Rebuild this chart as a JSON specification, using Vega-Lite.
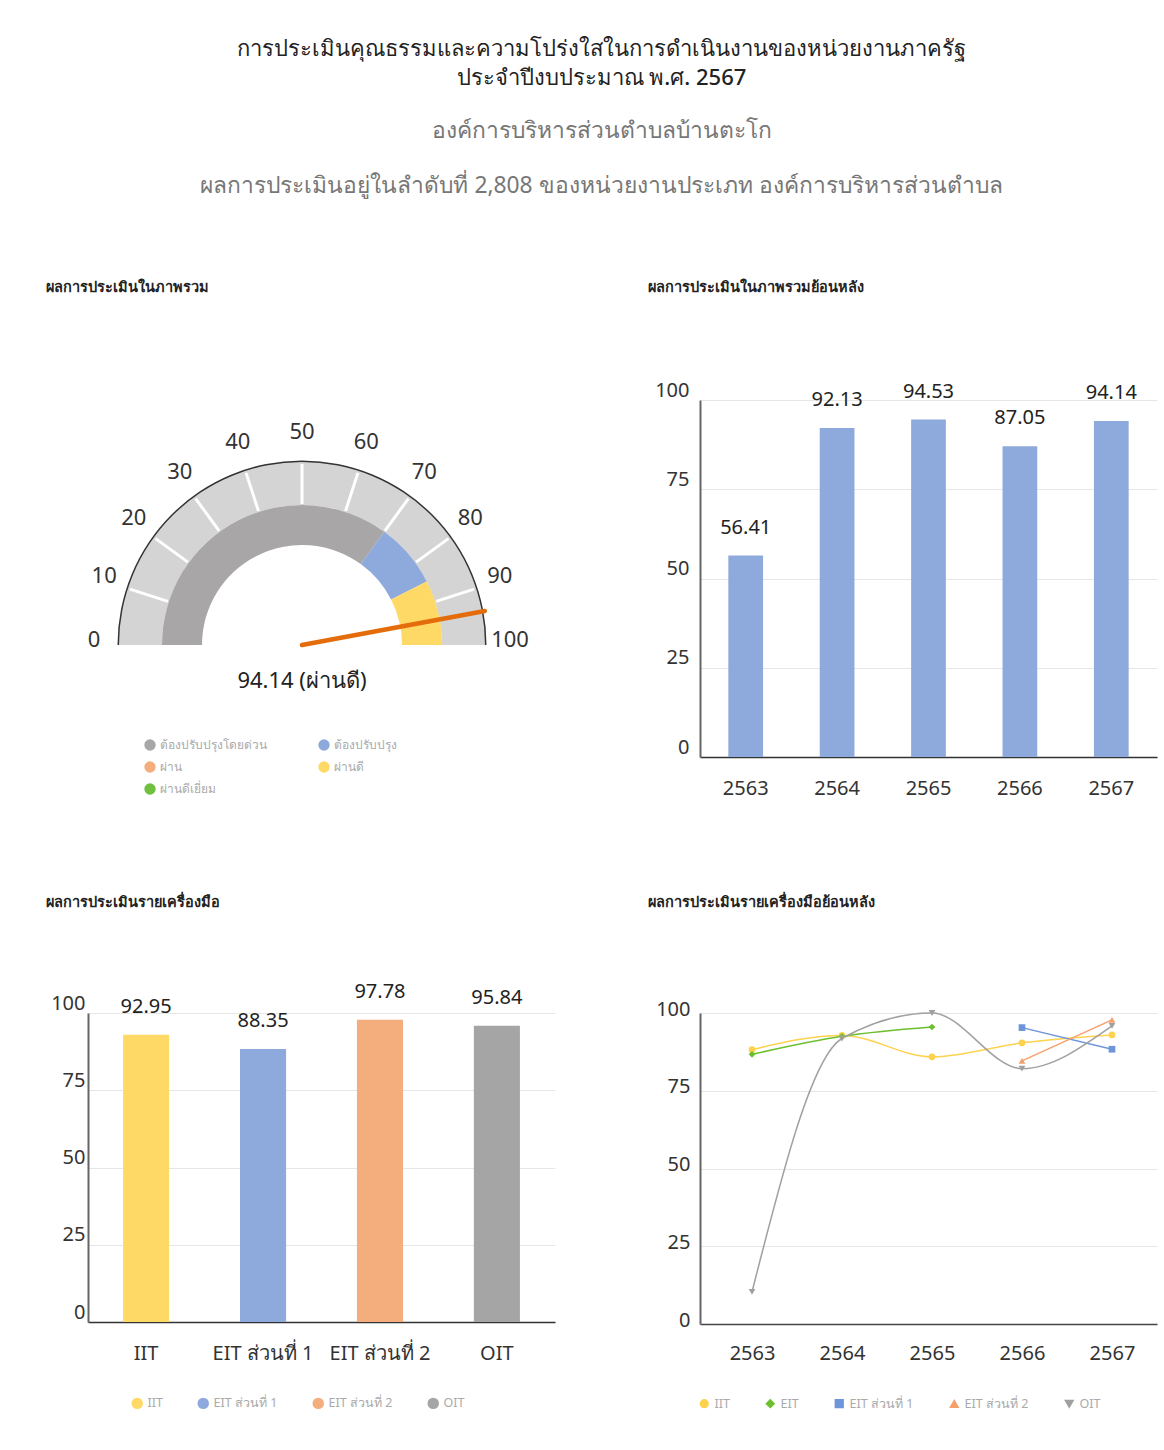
{
  "$schema": "https://vega.github.io/schema/vega-lite/v6.json",
  "background": "white",
  "padding": {"left": 46, "top": 37, "right": 7, "bottom": 10},
  "title": {
    "text": ["การประเมินคุณธรรมและความโปร่งใสในการดำเนินงานของหน่วยงานภาครัฐ", "ประจำปีงบประมาณ พ.ศ. 2567"],
    "subtitle": ["องค์การบริหารส่วนตำบลบ้านตะโก", "ผลการประเมินอยู่ในลำดับที่ 2,808 ของหน่วยงานประเภท องค์การบริหารส่วนตำบล"],
    "anchor": "middle",
    "frame": "bounds",
    "fontSize": 22,
    "fontWeight": 500,
    "color": "#222",
    "lineHeight": 29,
    "subtitleFontSize": 22.8,
    "subtitleColor": "#777",
    "subtitleLineHeight": 55,
    "subtitlePadding": 30,
    "offset": 81
  },
  "columns": 2,
  "bounds": "flush",
  "align": "each",
  "spacing": {"row": 123, "column": 145},
  "resolve": {
    "scale": {"color": "independent", "shape": "independent"},
    "legend": {"color": "independent", "shape": "independent"}
  },
  "concat": [
    {
      "width": 428,
      "height": 490,
      "title": {"text": "ผลการประเมินในภาพรวม", "anchor": "start", "frame": "group", "offset": 105, "dx": -42},
      "layer": [
        {
          "data": {"values": [{"lo": 0, "hi": 100}]},
          "mark": {"type": "arc", "radius": 184, "radius2": 140, "color": "#D4D4D4"},
          "encoding": {
            "theta": {"field": "lo", "type": "quantitative", "scale": {"domain": [0, 100], "range": [-1.5707963, 1.5707963]}},
            "theta2": {"field": "hi"}
          }
        },
        {
          "data": {"values": [{"lo": 0, "hi": 100}]},
          "mark": {"type": "arc", "radius": 184.5, "radius2": 183, "color": "#333"},
          "encoding": {
            "theta": {"field": "lo", "type": "quantitative", "scale": {"domain": [0, 100], "range": [-1.5707963, 1.5707963]}},
            "theta2": {"field": "hi"}
          }
        },
        {
          "data": {"values": [
            {"cat": "ต้องปรับปรุงโดยด่วน", "lo": 0, "hi": 70},
            {"cat": "ต้องปรับปรุง", "lo": 70, "hi": 85},
            {"cat": "ผ่านดี", "lo": 85, "hi": 100}
          ]},
          "mark": {"type": "arc", "radius": 140, "radius2": 100},
          "encoding": {
            "theta": {"field": "lo", "type": "quantitative", "scale": {"domain": [0, 100], "range": [-1.5707963, 1.5707963]}},
            "theta2": {"field": "hi"},
            "color": {
              "field": "cat", "type": "nominal",
              "scale": {"domain": ["ต้องปรับปรุงโดยด่วน", "ผ่าน", "ผ่านดีเยี่ยม", "ต้องปรับปรุง", "ผ่านดี"], "range": ["#A8A6A7", "#F4AD7C", "#70C040", "#8EA9DB", "#FFD966"]},
              "legend": {"title": null, "orient": "none", "legendX": 56, "legendY": 339, "columns": 2, "columnPadding": 51, "rowPadding": 10, "symbolType": "circle", "symbolSize": 130, "labelFontSize": 12, "labelColor": "#aaa", "symbolStrokeWidth": 0}
            }
          }
        },
        {
          "data": {"values": [{"v": 10}, {"v": 20}, {"v": 30}, {"v": 40}, {"v": 50}, {"v": 60}, {"v": 70}, {"v": 80}, {"v": 90}]},
          "mark": {"type": "arc", "radius": 181, "radius2": 141, "fill": null, "stroke": "white", "strokeWidth": 3},
          "encoding": {
            "theta": {"field": "v", "type": "quantitative", "scale": {"domain": [0, 100], "range": [-1.5707963, 1.5707963]}},
            "theta2": {"field": "v"}
          }
        },
        {
          "data": {"values": [{"v": 0}, {"v": 10}, {"v": 20}, {"v": 30}, {"v": 40}, {"v": 50}, {"v": 60}, {"v": 70}, {"v": 80}, {"v": 90}, {"v": 100}]},
          "mark": {"type": "text", "radius": 208, "dy": -5, "fontSize": 22, "color": "#333"},
          "encoding": {
            "theta": {"field": "v", "type": "quantitative", "stack": null, "scale": {"domain": [0, 100], "range": [-1.5707963, 1.5707963]}},
            "text": {"field": "v", "type": "quantitative"}
          }
        },
        {
          "data": {"values": [{"score": 94.14}]},
          "mark": {"type": "arc", "radius": 186, "radius2": 0, "fill": null, "stroke": "#E46C0A", "strokeWidth": 4.5, "strokeCap": "round", "strokeJoin": "round"},
          "encoding": {
            "theta": {"field": "score", "type": "quantitative", "scale": {"domain": [0, 100], "range": [-1.5707963, 1.5707963]}},
            "theta2": {"field": "score"}
          }
        },
        {
          "data": {"values": [{"label": "94.14 (ผ่านดี)"}]},
          "mark": {"type": "text", "dy": 36, "fontSize": 22, "color": "#222"},
          "encoding": {"text": {"field": "label", "type": "nominal"}}
        }
      ]
    },
    {
      "width": 457,
      "height": 357,
      "title": {"text": "ผลการประเมินในภาพรวมย้อนหลัง", "anchor": "start", "frame": "group", "offset": 85, "dx": -52},
      "data": {"values": [
        {"year": "2563", "score": 56.41},
        {"year": "2564", "score": 92.13},
        {"year": "2565", "score": 94.53},
        {"year": "2566", "score": 87.05},
        {"year": "2567", "score": 94.14}
      ]},
      "encoding": {
        "x": {"field": "year", "type": "nominal", "scale": {"paddingInner": 0.62, "paddingOuter": 0.31},
              "axis": {"title": null, "labelAngle": 0, "labelPadding": 21, "domainColor": "#333", "domainWidth": 1.5}},
        "y": {"field": "score", "type": "quantitative", "scale": {"domain": [0, 100]},
              "axis": {"title": null, "values": [0, 25, 50, 75, 100], "labelBaseline": "bottom", "labelPadding": 11, "domainColor": "#666", "domainWidth": 2}}
      },
      "layer": [
        {"mark": {"type": "bar", "color": "#8EA9DB"}},
        {"mark": {"type": "text", "baseline": "bottom", "dy": -18, "fontSize": 20, "color": "#222"},
         "encoding": {"text": {"field": "score", "type": "quantitative", "format": ".2f"}}}
      ]
    },
    {
      "width": 467,
      "height": 309,
      "title": {"text": "ผลการประเมินรายเครื่องมือ", "anchor": "start", "frame": "group", "offset": 71, "dx": -42},
      "data": {"values": [
        {"tool": "IIT", "score": 92.95},
        {"tool": "EIT ส่วนที่ 1", "score": 88.35},
        {"tool": "EIT ส่วนที่ 2", "score": 97.78},
        {"tool": "OIT", "score": 95.84}
      ]},
      "encoding": {
        "x": {"field": "tool", "type": "nominal", "sort": null, "scale": {"paddingInner": 0.606, "paddingOuter": 0.3},
              "axis": {"title": null, "labelAngle": 0, "labelPadding": 21, "domainColor": "#333", "domainWidth": 1.5}},
        "y": {"field": "score", "type": "quantitative", "scale": {"domain": [0, 100]},
              "axis": {"title": null, "values": [0, 25, 50, 75, 100], "labelBaseline": "bottom", "labelPadding": 3, "domainColor": "#666", "domainWidth": 2}}
      },
      "layer": [
        {"mark": {"type": "bar"},
         "encoding": {"color": {"field": "tool", "type": "nominal",
           "scale": {"domain": ["IIT", "EIT ส่วนที่ 1", "EIT ส่วนที่ 2", "OIT"], "range": ["#FFD966", "#8EA9DB", "#F4AD7C", "#A5A5A5"]},
           "legend": {"title": null, "orient": "none", "direction": "horizontal", "legendX": 43, "legendY": 384, "columnPadding": 34, "symbolType": "circle", "symbolSize": 130, "labelFontSize": 12.5, "labelColor": "#aaa", "symbolStrokeWidth": 0}}}},
        {"mark": {"type": "text", "baseline": "bottom", "dy": -18, "fontSize": 20, "color": "#222"},
         "encoding": {"text": {"field": "score", "type": "quantitative", "format": ".2f"}}}
      ]
    },
    {
      "width": 457,
      "height": 311,
      "title": {"text": "ผลการประเมินรายเครื่องมือย้อนหลัง", "anchor": "start", "frame": "group", "offset": 89, "dx": -52},
      "data": {"values": [
        {"year": "2563", "series": "IIT", "score": 88.2},
        {"year": "2564", "series": "IIT", "score": 92.8},
        {"year": "2565", "series": "IIT", "score": 85.9},
        {"year": "2566", "series": "IIT", "score": 90.4},
        {"year": "2567", "series": "IIT", "score": 92.95},
        {"year": "2563", "series": "EIT", "score": 86.7},
        {"year": "2564", "series": "EIT", "score": 92.5},
        {"year": "2565", "series": "EIT", "score": 95.5},
        {"year": "2566", "series": "EIT ส่วนที่ 1", "score": 95.3},
        {"year": "2567", "series": "EIT ส่วนที่ 1", "score": 88.35},
        {"year": "2566", "series": "EIT ส่วนที่ 2", "score": 84.6},
        {"year": "2567", "series": "EIT ส่วนที่ 2", "score": 97.78},
        {"year": "2563", "series": "OIT", "score": 10.3},
        {"year": "2564", "series": "OIT", "score": 91.8},
        {"year": "2565", "series": "OIT", "score": 100},
        {"year": "2566", "series": "OIT", "score": 82.1},
        {"year": "2567", "series": "OIT", "score": 95.84}
      ]},
      "encoding": {
        "x": {"field": "year", "type": "ordinal", "scale": {"type": "point", "padding": 0.539, "align": 0.536},
              "axis": {"title": null, "labelAngle": 0, "labelPadding": 19, "domainColor": "#444", "domainWidth": 1.5, "grid": false}},
        "y": {"field": "score", "type": "quantitative", "scale": {"domain": [0, 100]},
              "axis": {"title": null, "values": [0, 25, 50, 75, 100], "labelOffset": -4, "labelPadding": 10, "domainColor": "#666", "domainWidth": 2}},
        "color": {"field": "series", "type": "nominal",
          "scale": {"domain": ["IIT", "EIT", "EIT ส่วนที่ 1", "EIT ส่วนที่ 2", "OIT"], "range": ["#FDD24F", "#6CBF2E", "#6E95DB", "#F5A06C", "#A0A0A0"]},
          "legend": {"title": null, "orient": "none", "direction": "horizontal", "legendX": -2, "legendY": 384, "columnPadding": 33, "symbolSize": 60, "labelFontSize": 12.5, "labelColor": "#aaa"}}
      },
      "layer": [
        {"mark": {"type": "line", "interpolate": "monotone", "strokeWidth": 1.5}},
        {"mark": {"type": "point", "filled": true, "size": 45, "opacity": 1},
         "encoding": {"shape": {"field": "series", "type": "nominal",
           "scale": {"domain": ["IIT", "EIT", "EIT ส่วนที่ 1", "EIT ส่วนที่ 2", "OIT"], "range": ["circle", "diamond", "square", "triangle-up", "triangle-down"]},
           "legend": {"title": null, "orient": "none", "direction": "horizontal", "legendX": -2, "legendY": 384, "columnPadding": 33, "symbolSize": 60, "labelFontSize": 12.5, "labelColor": "#aaa"}}}}
      ]
    }
  ],
  "config": {
    "font": "Noto Sans",
    "view": {"stroke": null},
    "title": {"fontSize": 14.5, "fontWeight": 600, "color": "#222", "subtitleFont": "Noto Sans"},
    "axis": {"labelFontSize": 20, "labelColor": "#333", "ticks": false, "gridColor": "#e6e6e6", "gridWidth": 1.2, "labelFont": "Noto Sans"},
    "axisX": {"grid": false},
    "legend": {"labelFont": "Noto Sans"}
  }
}
